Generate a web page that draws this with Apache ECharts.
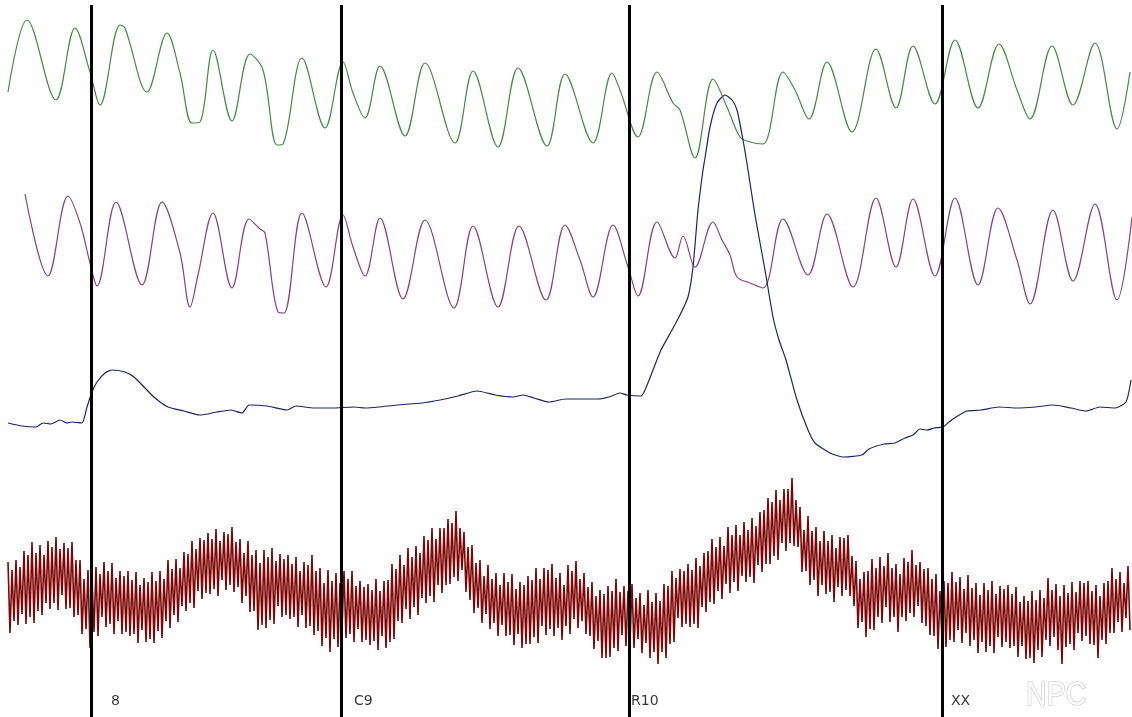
<!DOCTYPE html>
<html>
<head>
<meta charset="utf-8">
<script src="https://cdn.jsdelivr.net/npm/echarts@6/dist/echarts.min.js"></script>
<style>
html,body{margin:0;padding:0;background:#fff;}
#chart{width:1132px;height:717px;}
</style>
</head>
<body>
<div id="chart"></div>
<script>
// time axis: 0..1132 samples; amplitude axis: 0..717 (downward)
const greenTrace = [[8,92],[27,20],[56,100],[75,28],[90,72],[100,105],[120,25],[125,28],[147,92],[167,33],[180,73],[192,123],[200,122],[213,50],[232,121],[250,54],[263,70],[277,145],[283,144],[302,58],[325,128],[343,62],[353,93],[365,118],[380,66],[405,136],[425,63],[455,143],[473,71],[498,147],[518,68],[547,146],[565,74],[593,143],[612,73],[620,90],[638,137],[657,72],[673,103],[680,110],[695,158],[713,79],[727,107],[740,137],[750,142],[763,144],[783,72],[795,90],[809,119],[827,62],[852,132],[876,49],[896,108],[913,46],[935,104],[955,40],[978,108],[999,44],[1017,90],[1030,119],[1052,46],[1073,105],[1095,43],[1117,129],[1130,72]];

const purpleTrace = [[25,194],[48,276],[68,196],[80,223],[90,263],[97,286],[116,202],[142,285],[162,202],[180,253],[190,307],[198,275],[213,213],[232,288],[249,219],[260,229],[265,233],[278,312],[284,313],[302,213],[326,287],[343,215],[353,247],[365,276],[380,218],[403,299],[425,220],[454,308],[473,226],[498,307],[519,226],[546,300],[565,225],[580,260],[593,297],[613,225],[628,267],[638,296],[657,222],[675,258],[683,236],[695,267],[713,222],[722,240],[730,255],[737,277],[750,283],[763,288],[783,219],[808,275],[827,214],[853,287],[876,198],[896,267],[913,199],[935,276],[955,198],[978,285],[998,208],[1017,260],[1030,304],[1053,210],[1073,281],[1095,204],[1117,300],[1132,217]];

const blueTrace = [[8,423],[22,426],[36,427],[43,423],[51,424],[60,420],[67,423],[72,422],[82,423],[87,407],[92,392],[97,382],[105,373],[112,370],[125,372],[134,377],[144,387],[155,398],[168,407],[184,411],[200,415],[217,412],[231,410],[242,413],[249,405],[267,406],[287,410],[296,406],[314,408],[332,408],[354,407],[365,408],[379,407],[397,405],[422,403],[440,400],[458,396],[477,391],[495,395],[513,397],[523,395],[534,398],[549,402],[566,399],[584,399],[598,399],[609,397],[620,393],[627,395],[641,396],[645,390],[653,370],[661,350],[672,330],[680,315],[688,297],[693,267],[698,210],[703,170],[705,158],[710,127],[717,103],[725,95],[732,100],[737,110],[743,140],[748,170],[755,215],[765,270],[773,317],[779,340],[786,360],[797,400],[808,430],[815,443],[830,453],[844,457],[862,455],[869,449],[884,444],[895,443],[905,438],[913,435],[920,429],[927,430],[934,428],[943,427],[949,422],[956,417],[967,411],[981,410],[999,407],[1017,408],[1035,407],[1053,405],[1071,408],[1086,411],[1100,407],[1115,408],[1126,402],[1131,380]];

// dark red fast trace: one peak and one trough per cycle, 4 samples per cycle from t=8
const redStart = 8, redCycle = 4;
const redHi = [
562,570,560,567,551,555,542,553,545,555,
541,547,537,549,543,548,542,560,560,579,
570,578,567,574,562,571,563,578,571,576,
571,580,572,585,578,582,572,581,571,579,
560,569,559,568,552,554,541,549,538,540,
533,539,529,541,532,534,527,542,539,553,
541,555,550,563,550,557,548,561,554,559,
555,564,557,571,562,565,555,571,568,583,
570,581,573,583,571,579,571,586,581,587,
584,590,579,591,581,580,564,569,555,565,
548,557,546,553,536,540,528,539,528,528,
519,523,511,528,532,547,545,563,560,576,
565,579,573,585,573,582,574,589,582,585,
576,580,568,579,568,570,564,578,573,585,
565,571,561,579,573,587,582,596,590,594,
586,591,579,592,586,591,584,598,593,605,
590,602,593,601,584,586,571,578,569,571,
564,570,558,566,553,551,539,547,537,546,
527,535,525,535,522,530,518,526,512,510,
498,502,490,500,489,489,478,500,507,530,
516,531,527,541,531,541,535,548,537,538,
535,556,561,579,572,571,559,568,557,566,
553,568,564,574,558,562,550,565,562,569,
568,579,574,591,581,583,572,582,577,589,
575,588,583,595,583,590,581,594,586,589,
585,594,587,602,596,601,591,600,590,598,
578,590,584,596,585,593,582,592,581,583,
581,591,585,596,583,581,568,579,572,583,
566];
const redLo = [
633,621,625,614,624,617,623,611,615,603,
609,603,610,595,609,608,617,615,634,629,
648,632,636,617,627,624,634,621,634,632,
636,634,643,630,642,639,643,631,638,621,
628,615,622,606,611,603,608,591,599,593,
594,589,596,580,590,585,592,587,603,596,
612,611,630,625,628,620,624,606,617,615,
619,617,627,615,628,626,635,631,646,638,
652,639,647,630,638,634,642,629,642,640,
645,641,650,636,648,642,639,621,623,609,
619,607,615,598,603,596,602,585,593,585,
584,577,581,570,592,600,613,608,623,614,
629,623,636,625,636,635,645,634,648,644,
644,637,643,626,635,629,636,628,640,626,
634,619,628,621,634,636,649,641,658,658,
657,648,651,635,646,642,648,639,653,643,
658,652,664,652,658,644,642,618,627,624,
627,624,628,607,612,602,604,591,599,584,
593,582,591,576,582,577,583,565,572,564,
564,556,560,543,551,543,546,547,572,571,
585,580,596,585,594,592,602,587,596,590,
596,606,628,622,637,629,630,617,623,607,
622,617,632,617,621,613,617,606,623,626,
635,636,649,640,647,640,642,630,643,633,
646,640,653,642,652,646,653,637,647,642,
648,646,657,646,659,658,663,650,657,640,
646,637,650,664,647,644,650,633,641,636,
644,645,658,640,644,633,633,622,632,618,
630];

const markerX = [91, 341, 629, 942];
const markerNames = ['8', 'C9', 'R10', 'XX'];
const markerLabelX = [111, 354, 631, 951];
const markerLabelY = 701;

const redTrace = [];
for (let i = 0; i < redHi.length; i++) {
  redTrace.push([redStart + i * redCycle, redHi[i]]);
  redTrace.push([redStart + i * redCycle + redCycle / 2, redLo[i]]);
}

const chart = echarts.init(document.getElementById('chart'), null, {renderer: 'canvas'});
const lineBase = {type: 'line', showSymbol: false, symbol: 'none', silent: true, animation: false};

chart.setOption({
  backgroundColor: '#ffffff',
  animation: false,
  grid: {left: 0, right: 0, top: 0, bottom: 0},
  xAxis: {type: 'value', min: 0, max: 1132, show: false},
  yAxis: {type: 'value', min: 0, max: 717, inverse: true, show: false},
  series: [
    Object.assign({}, lineBase, {name: 'green', data: greenTrace, smooth: 0.35, lineStyle: {color: '#3d8f3d', width: 1.2}}),
    Object.assign({}, lineBase, {name: 'purple', data: purpleTrace, smooth: 0.35, lineStyle: {color: '#8c3d8c', width: 1.2}}),
    Object.assign({}, lineBase, {name: 'blue', data: blueTrace, smooth: 0.2, lineStyle: {color: '#1c2462', width: 1.2}}),
    Object.assign({}, lineBase, {name: 'red', data: redTrace, smooth: false, lineStyle: {color: '#7e0606', width: 1.6}}),
    Object.assign({}, lineBase, {
      name: 'markers', data: [], z: 5,
      markLine: {
        silent: true, symbol: 'none', animation: false,
        label: {show: false},
        lineStyle: {color: '#000000', width: 3, type: 'solid'},
        emphasis: {disabled: true},
        data: markerX.map(x => [{coord: [x, 5]}, {coord: [x, 717]}])
      }
    }),
    {
      type: 'scatter', name: 'labels', silent: true, animation: false, z: 6,
      symbolSize: 0,
      data: markerLabelX.map((x, i) => ({value: [x, markerLabelY], name: markerNames[i]})),
      label: {show: true, position: 'right', distance: 0, formatter: p => p.name,
              color: '#000', fontSize: 14, fontFamily: 'DejaVu Sans'}
    }
  ],
  graphic: [{
    type: 'text', x: 1026, y: 679, scaleX: 0.84, silent: true,
    style: {text: 'NPC', fontSize: 34, fontFamily: 'Liberation Sans', fill: '#ffffff', stroke: '#bdbdbd', lineWidth: 1.2}
  }]
});
</script>
</body>
</html>
